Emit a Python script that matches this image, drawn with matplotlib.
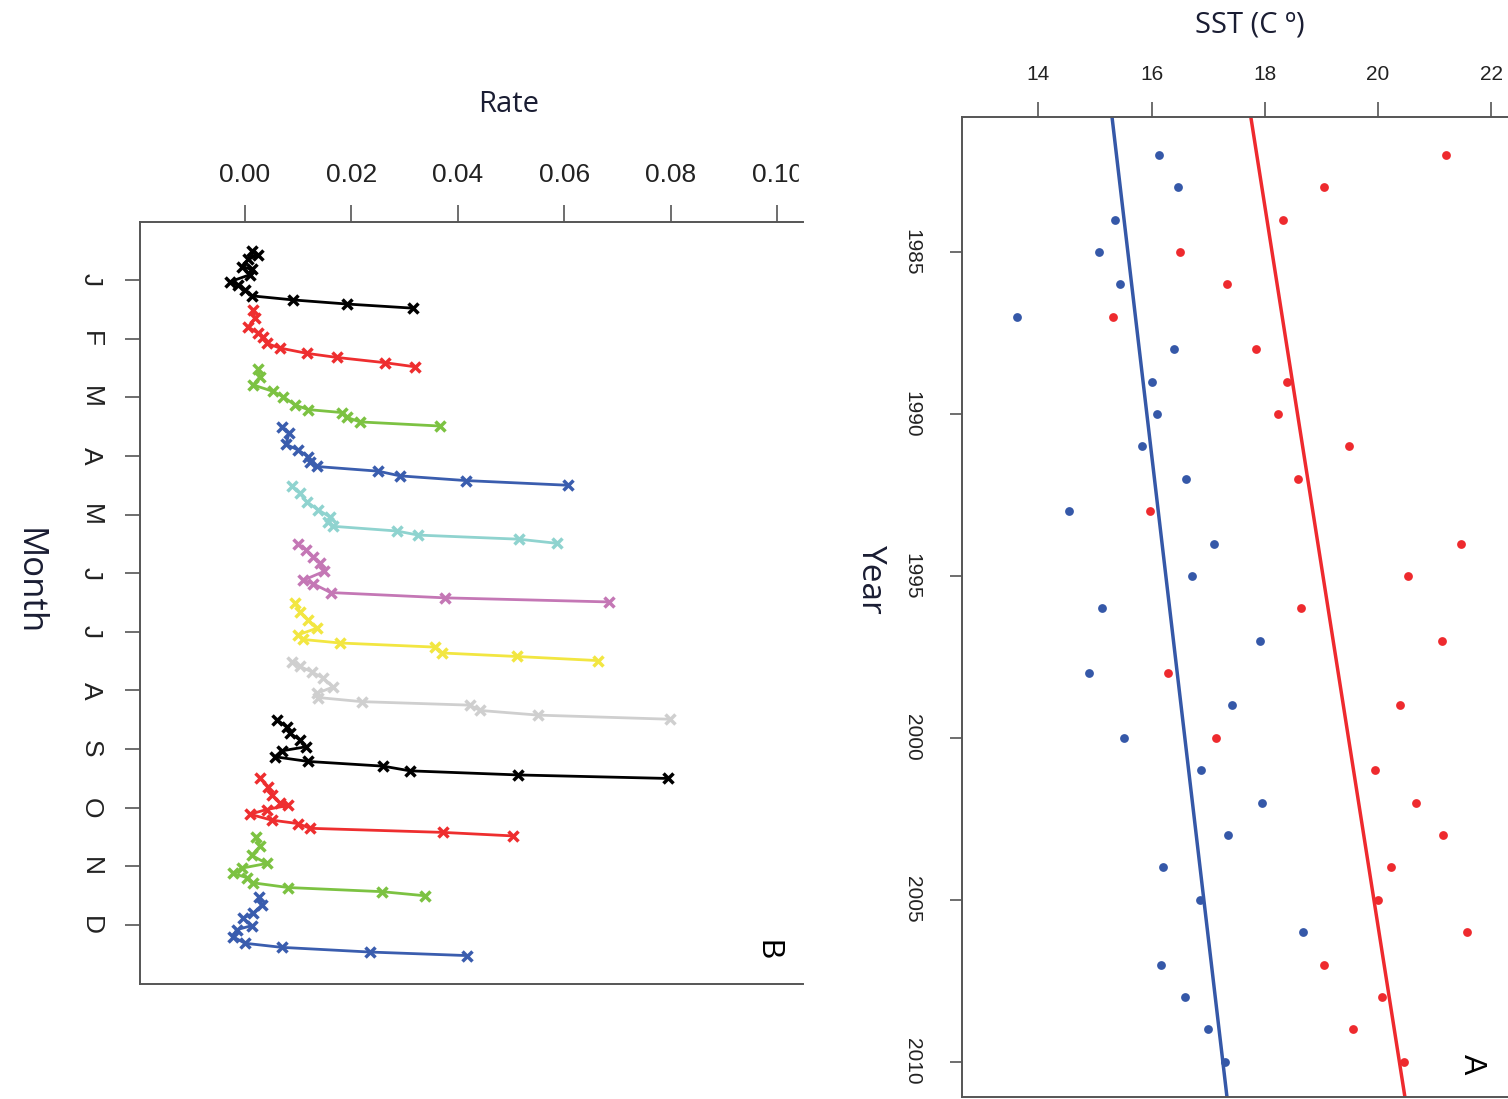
import matplotlib
matplotlib.use("Agg")
import matplotlib.pyplot as plt

# ---- panel B: rate by month (x = rate, y = month position) ----
month_labels = ["J", "F", "M", "A", "M", "J", "J", "A", "S", "O", "N", "D"]
rate_ticks = [0.00, 0.02, 0.04, 0.06, 0.08, 0.10]

rate_jan = [0.00137, 0.0025, 0.00062, -0.00062, 0.00126, 0.00094, -0.00282, -0.00126, 0.0, 0.00126, 0.00907, 0.01921, 0.03149]
pos_jan = [-0.50, -0.43, -0.35, -0.23, -0.18, -0.09, 0.03, 0.09, 0.17, 0.27, 0.34, 0.41, 0.48]
rate_feb = [0.00156, 0.00188, 0.00062, 0.0025, 0.00344, 0.00408, 0.00657, 0.01159, 0.01722, 0.02629, 0.03192]
pos_feb = [0.52, 0.65, 0.80, 0.91, 0.97, 1.08, 1.16, 1.25, 1.32, 1.41, 1.48]
rate_mar = [0.0025, 0.00282, 0.00156, 0.00531, 0.00719, 0.00939, 0.01189, 0.01816, 0.0191, 0.0216, 0.03662]
pos_mar = [1.51, 1.65, 1.79, 1.90, 1.99, 2.13, 2.21, 2.26, 2.34, 2.42, 2.49]
rate_apr = [0.00689, 0.00832, 0.0077, 0.01001, 0.01189, 0.01221, 0.01346, 0.02503, 0.02911, 0.04145, 0.0606]
pos_apr = [2.51, 2.61, 2.80, 2.90, 3.01, 3.10, 3.18, 3.26, 3.34, 3.42, 3.50]
rate_may = [0.00877, 0.01033, 0.01159, 0.01377, 0.01596, 0.01564, 0.01658, 0.02849, 0.03254, 0.05146, 0.05854]
pos_may = [3.51, 3.64, 3.78, 3.92, 4.04, 4.12, 4.20, 4.28, 4.35, 4.42, 4.49]
rate_jun = [0.01001, 0.01146, 0.01283, 0.01408, 0.01484, 0.01095, 0.01283, 0.01609, 0.03756, 0.06841]
pos_jun = [4.50, 4.60, 4.72, 4.83, 4.97, 5.12, 5.18, 5.33, 5.42, 5.49]
rate_jul = [0.00939, 0.01033, 0.01189, 0.01346, 0.01001, 0.01095, 0.01784, 0.03568, 0.03694, 0.05102, 0.06635]
pos_jul = [5.51, 5.66, 5.80, 5.94, 6.05, 6.13, 6.19, 6.26, 6.36, 6.42, 6.49]
rate_aug = [0.00877, 0.01033, 0.01253, 0.0147, 0.01658, 0.01346, 0.01377, 0.02192, 0.04225, 0.04413, 0.05508, 0.07981]
pos_aug = [6.51, 6.59, 6.68, 6.79, 6.94, 7.05, 7.12, 7.19, 7.25, 7.34, 7.42, 7.49]
rate_sep = [0.00607, 0.00794, 0.00845, 0.01033, 0.01146, 0.00689, 0.00563, 0.01189, 0.02597, 0.03099, 0.05132, 0.07949]
pos_sep = [7.50, 7.63, 7.73, 7.84, 7.96, 8.03, 8.13, 8.21, 8.29, 8.37, 8.44, 8.50]
rate_oct = [0.00282, 0.00438, 0.00501, 0.00657, 0.00813, 0.00408, 0.00094, 0.00501, 0.01001, 0.01221, 0.03724, 0.05039]
pos_oct = [8.50, 8.64, 8.78, 8.92, 8.96, 9.03, 9.11, 9.21, 9.27, 9.35, 9.42, 9.48]
rate_nov = [0.00207, 0.00282, 0.00126, 0.00408, -0.00062, -0.0022, 0.00032, 0.00156, 0.00813, 0.02567, 0.0338]
pos_nov = [9.49, 9.66, 9.81, 9.95, 10.03, 10.12, 10.19, 10.28, 10.36, 10.43, 10.50]
rate_dec = [0.00269, 0.00314, 0.00156, -0.00032, 0.00126, -0.00156, -0.0022, 0.0, 0.00689, 0.02347, 0.04163]
pos_dec = [10.52, 10.66, 10.80, 10.88, 11.01, 11.08, 11.20, 11.31, 11.38, 11.46, 11.52]

month_colors = ["black", "#EE2E2F", "#7CC242", "#3A5DAE", "#8FD3CF", "#C477B5",
                "#F2E641", "#CFCFCF", "black", "#EE2E2F", "#7CC242", "#3A5DAE"]

# ---- panel A: SST by year ----
years = list(range(1982, 2011))
year_ticks = [1985, 1990, 1995, 2000, 2005, 2010]
sst_ticks = [14, 16, 18, 20, 22]
sst_blue = [16.13, 16.46, 15.36, 15.08, 15.44, 13.62, 16.40, 16.01, 16.10, 15.84,
            16.61, 14.54, 17.11, 16.72, 15.13, 17.92, 14.89, 17.42, 15.52, 16.87,
            17.96, 17.35, 16.21, 16.86, 18.68, 16.16, 16.60, 16.99, 17.29]
sst_red = [21.21, 19.04, 18.32, 16.51, 17.33, 15.31, 17.84, 18.40, 18.23, 19.49,
           18.58, 15.97, 21.47, 20.53, 18.65, 21.14, 16.29, 20.40, 17.14, 19.95,
           20.67, 21.16, 20.23, 20.01, 21.58, 19.04, 20.08, 19.56, 20.46]
# fitted trend values at 1982 and 2010
trend_blue = [15.38, 17.26]
trend_red = [17.86, 20.38]

blue_c = "#3558A8"
red_c = "#EE2A2E"
title_c = "#1a1d33"
spine_c = "#555555"
tick_font = "Liberation Sans"
title_font = "Open Sans"

W, H = 1508, 1099
fig = plt.figure(figsize=(W / 100, H / 100), dpi=100)

# ---------------- left panel ----------------
axB = fig.add_axes([140 / W, 1 - 984 / H, 663 / W, 762 / H])
series = [(rate_jan, pos_jan), (rate_feb, pos_feb), (rate_mar, pos_mar), (rate_apr, pos_apr),
          (rate_may, pos_may), (rate_jun, pos_jun), (rate_jul, pos_jul), (rate_aug, pos_aug),
          (rate_sep, pos_sep), (rate_oct, pos_oct), (rate_nov, pos_nov), (rate_dec, pos_dec)]
for (r, p), c in zip(series, month_colors):
    axB.plot(r, p, color=c, lw=2.0, marker="x", ms=7, mew=2.5)

axB.set_xlim(-0.0197, 0.1048)
axB.set_ylim(12.005, -0.989)
axB.xaxis.tick_top()
axB.set_xticks(rate_ticks)
axB.set_xticklabels([f"{v:.2f}" for v in rate_ticks], fontsize=19, family=tick_font)
axB.set_yticks(range(12))
axB.set_yticklabels(month_labels, fontsize=19, family=tick_font, rotation=-90,
                    va="center", ha="right")
axB.tick_params(axis="x", length=12, width=1.2, pad=13, colors=spine_c, labelcolor="#222222")
axB.tick_params(axis="y", length=11, width=1.2, pad=16, colors=spine_c, labelcolor="#222222")
axB.spines["right"].set_visible(False)
for s in ["left", "top", "bottom"]:
    axB.spines[s].set_color(spine_c)
    axB.spines[s].set_linewidth(1.4)
axB.text(0.947, 0.045, "B", transform=axB.transAxes, fontsize=22, family=tick_font,
         rotation=-90, ha="center", va="center")

# the original figure is cut off just right of the left panel
fig.patches.append(plt.Rectangle((799 / W, 1 - 200 / H), 60 / W, 60 / H,
                                 transform=fig.transFigure, color="white", zorder=5))

fig.text(509 / W, 1 - 105 / H, "Rate", fontsize=21, family=title_font, color=title_c,
         ha="center", va="center")
fig.text(29 / W, 1 - 582 / H, "Month", fontsize=25, family=title_font, color=title_c,
         rotation=-90, ha="center", va="center")

# ---------------- right panel ----------------
axA = fig.add_axes([962 / W, 1 - 1097 / H, 546 / W, 980 / H])
axA.scatter(sst_blue, years, s=40, color=blue_c, zorder=3, linewidths=0)
axA.scatter(sst_red, years, s=40, color=red_c, zorder=3, linewidths=0)
axA.axline((trend_blue[0], years[0]), (trend_blue[1], years[-1]), color=blue_c, lw=2.5)
axA.axline((trend_red[0], years[0]), (trend_red[1], years[-1]), color=red_c, lw=2.5)

axA.set_xlim(12.65, 22.30)
axA.set_ylim(2011.09, 1980.83)
axA.xaxis.tick_top()
axA.set_xticks(sst_ticks)
axA.set_xticklabels([str(v) for v in sst_ticks], fontsize=15, family=tick_font)
axA.set_yticks(year_ticks)
axA.set_yticklabels([str(v) for v in year_ticks], fontsize=15, family=tick_font,
                    rotation=-90, va="center", ha="right")
axA.tick_params(axis="x", length=11, width=1.2, pad=13, colors=spine_c, labelcolor="#222222")
axA.tick_params(axis="y", length=9, width=1.2, pad=20, colors=spine_c, labelcolor="#222222")
axA.spines["right"].set_visible(False)
for s in ["left", "top", "bottom"]:
    axA.spines[s].set_color(spine_c)
    axA.spines[s].set_linewidth(1.4)
axA.text(0.934, 0.033, "A", transform=axA.transAxes, fontsize=22, family=tick_font,
         rotation=-90, ha="center", va="center")

fig.text(1250 / W, 1 - 25 / H, "SST (C º)", fontsize=21, family=title_font, color=title_c,
         ha="center", va="center")
fig.text(870 / W, 1 - 580 / H, "Year", fontsize=24, family=title_font, color=title_c,
         rotation=-90, ha="center", va="center")

fig.savefig("out.png", dpi=100)
